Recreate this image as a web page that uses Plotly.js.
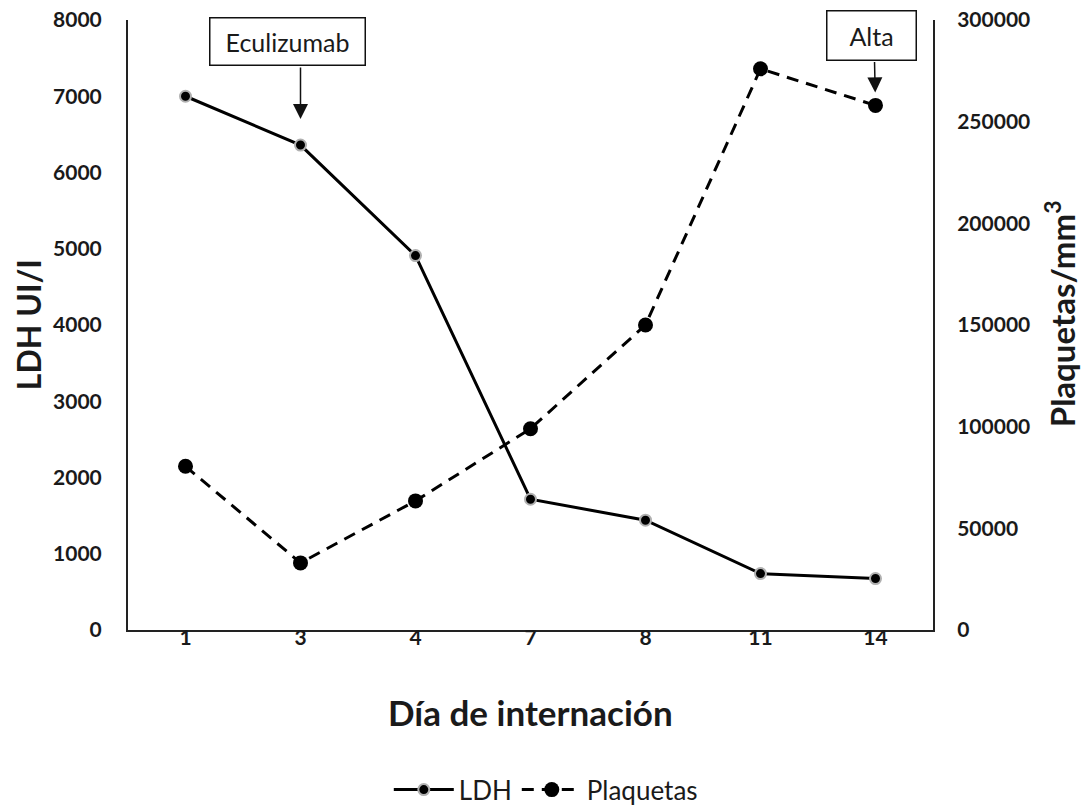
<!DOCTYPE html>
<html>
<head>
<meta charset="utf-8">
<script src="https://cdn.plot.ly/plotly-3.0.1.min.js"></script>
<style>html,body{margin:0;padding:0;background:#fff;}#chart{width:1081px;height:805px;}</style>
</head>
<body>
<div id="chart"></div>
<script>
const dias = ['1', '3', '4', '7', '8', '11', '14'];
const ldh = [7000, 6360, 4910, 1715, 1440, 740, 675];
const plaquetas = [80500, 33000, 63500, 99000, 150000, 276000, 258000];
const ldhTicks = [0, 1000, 2000, 3000, 4000, 5000, 6000, 7000, 8000];
const plaqTicks = [0, 50000, 100000, 150000, 200000, 250000, 300000];

const FONT = 'Lato, "Open Sans", sans-serif';
const INK = '#1a1a1a';

const traces = [
  {
    x: dias, y: ldh, name: 'LDH', type: 'scatter', mode: 'lines+markers',
    line: {color: '#000', width: 3},
    marker: {color: '#000', size: 11, line: {color: '#b0b0b0', width: 2}},
    yaxis: 'y'
  },
  {
    x: dias, y: plaquetas, name: 'Plaquetas', type: 'scatter', mode: 'lines+markers',
    line: {color: '#000', width: 3, dash: '12px,8px'},
    marker: {color: '#000', size: 15},
    yaxis: 'y2'
  }
];

const iEcu = dias.indexOf('3');
const iAlta = dias.indexOf('14');

const layout = {
  width: 1081, height: 805,
  margin: {l: 128, r: 148, t: 20, b: 175},
  paper_bgcolor: '#fff', plot_bgcolor: '#fff',
  font: {family: FONT, color: INK},
  showlegend: true,
  legend: {
    orientation: 'h', xref: 'paper', yref: 'container',
    x: 0.519, xanchor: 'center', y: 0.019, yanchor: 'middle',
    font: {family: FONT, size: 26, color: INK}, itemwidth: 60,
    bgcolor: 'rgba(0,0,0,0)'
  },
  xaxis: {
    type: 'category', categoryorder: 'array', categoryarray: dias,
    range: [-0.5, dias.length - 0.5],
    showline: true, linecolor: '#222', linewidth: 2, showgrid: false, zeroline: false,
    ticks: '', ticklabelstandoff: -12,
    tickfont: {family: FONT, size: 21, color: INK, weight: 'bold'},
    automargin: false, fixedrange: true
  },
  yaxis: {
    range: [0, 8000], tickvals: ldhTicks, ticktext: ldhTicks.map(String),
    showline: true, linecolor: '#222', linewidth: 2, showgrid: false, zeroline: false,
    ticks: 'outside', ticklen: 20, tickcolor: 'rgba(0,0,0,0)',
    tickfont: {family: FONT, size: 21, color: INK, weight: 'bold'},
    automargin: false, fixedrange: true
  },
  yaxis2: {
    overlaying: 'y', side: 'right',
    range: [0, 300000], tickvals: plaqTicks, ticktext: plaqTicks.map(String),
    showline: true, linecolor: '#222', linewidth: 2, showgrid: false, zeroline: false,
    ticks: 'outside', ticklen: 18, tickcolor: 'rgba(0,0,0,0)',
    tickfont: {family: FONT, size: 21, color: INK, weight: 'bold'},
    automargin: false, fixedrange: true
  },
  annotations: [
    {
      text: 'Día de internación', xref: 'paper', yref: 'paper', x: 0.5, y: -0.1344,
      xanchor: 'center', yanchor: 'middle', showarrow: false,
      font: {family: FONT, size: 35, color: INK, weight: 'bold'}
    },
    {
      text: 'LDH UI/I', xref: 'paper', yref: 'paper', x: -0.124, y: 0.5,
      xanchor: 'center', yanchor: 'middle', textangle: -90, showarrow: false,
      font: {family: FONT, size: 32, color: INK, weight: 'bold'}
    },
    {
      text: 'Plaquetas/mm<sup>3</sup>', xref: 'paper', yref: 'paper', x: 1.158, y: 0.518,
      xanchor: 'center', yanchor: 'middle', textangle: -90, showarrow: false,
      font: {family: FONT, size: 33, color: INK, weight: 'bold'}
    },
    {
      text: 'Eculizumab', xref: 'paper', yref: 'paper', x: 0.198, y: 0.964,
      xanchor: 'center', yanchor: 'middle', showarrow: false,
      font: {family: FONT, size: 25, color: INK},
      bgcolor: '#fff', bordercolor: '#111', borderwidth: 1.5, borderpad: 2,
      width: 150, height: 42
    },
    {
      text: '', x: iEcu, y: ldh[iEcu], xref: 'x', yref: 'y',
      showarrow: true, ax: 0, ay: -79, axref: 'pixel', ayref: 'pixel',
      arrowhead: 2, arrowsize: 2, arrowwidth: 1.5, arrowcolor: '#111', standoff: 26
    },
    {
      text: 'Alta', xref: 'paper', yref: 'paper', x: 0.9236, y: 0.975,
      xanchor: 'center', yanchor: 'middle', showarrow: false,
      font: {family: FONT, size: 25, color: INK},
      bgcolor: '#fff', bordercolor: '#111', borderwidth: 1.5, borderpad: 2,
      width: 84, height: 44
    },
    {
      text: '', x: iAlta, y: plaquetas[iAlta], xref: 'x', yref: 'y2',
      showarrow: true, ax: -1, ay: -45, axref: 'pixel', ayref: 'pixel',
      arrowhead: 2, arrowsize: 2, arrowwidth: 1.5, arrowcolor: '#111', standoff: 13
    }
  ]
};

Plotly.newPlot('chart', traces, layout, {displayModeBar: false, staticPlot: true});
</script>
</body>
</html>
